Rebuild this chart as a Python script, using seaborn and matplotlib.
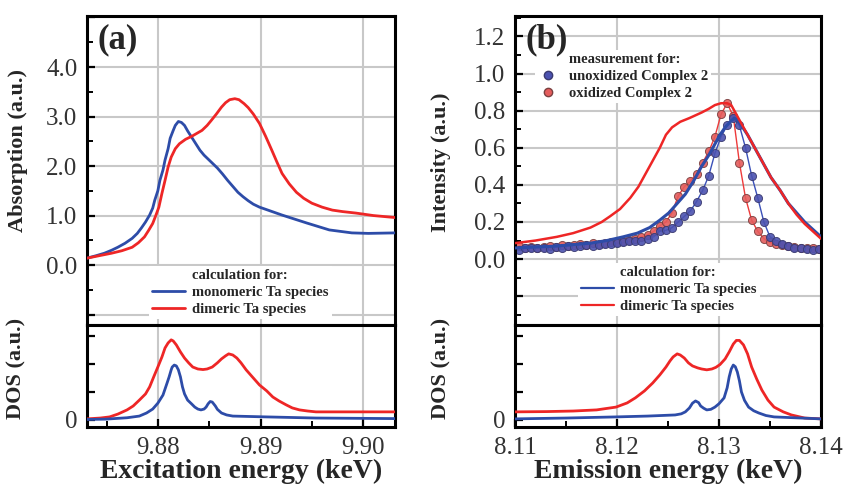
import numpy as np
import pandas as pd
import matplotlib
matplotlib.use("Agg")
import matplotlib.pyplot as plt
import seaborn as sns
from matplotlib.lines import Line2D
from matplotlib.ticker import MultipleLocator, FuncFormatter, NullLocator

# ---------------- data ----------------
# (a) absorption, calculation
abs_mono_x = [9.8731, 9.8740, 9.8748, 9.8755, 9.8761, 9.8768, 9.8775, 9.8780, 9.8784, 9.8788,
              9.8792, 9.8795, 9.8797, 9.8800, 9.8802, 9.8805, 9.8807, 9.8810, 9.8812, 9.8815,
              9.8817, 9.8820, 9.8823, 9.8826, 9.8829, 9.8833, 9.8837, 9.8841, 9.8845, 9.8850,
              9.8854, 9.8858, 9.8863, 9.8868, 9.8873, 9.8878, 9.8883, 9.8888, 9.8893, 9.8899,
              9.8910, 9.8921, 9.8933, 9.8945, 9.8956, 9.8967, 9.8978, 9.8989, 9.9005, 9.9031]
abs_mono_y = [0.14, 0.19, 0.24, 0.30, 0.36, 0.44, 0.54, 0.64, 0.75, 0.87,
              1.01, 1.15, 1.31, 1.50, 1.71, 1.92, 2.12, 2.35, 2.56, 2.72,
              2.82, 2.90, 2.88, 2.82, 2.71, 2.58, 2.45, 2.32, 2.22, 2.12,
              2.04, 1.96, 1.84, 1.71, 1.59, 1.47, 1.38, 1.30, 1.23, 1.17,
              1.09, 1.01, 0.93, 0.85, 0.78, 0.71, 0.68, 0.65, 0.64, 0.65]
abs_dim_x = [9.8731, 9.8743, 9.8755, 9.8765, 9.8775, 9.8781, 9.8787, 9.8791, 9.8795, 9.8798,
             9.8801, 9.8804, 9.8807, 9.8810, 9.8813, 9.8817, 9.8821, 9.8827, 9.8833, 9.8838,
             9.8843, 9.8848, 9.8852, 9.8857, 9.8862, 9.8866, 9.8870, 9.8875, 9.8879, 9.8884,
             9.8888, 9.8893, 9.8899, 9.8905, 9.8911, 9.8916, 9.8921, 9.8928, 9.8935, 9.8942,
             9.8950, 9.8960, 9.8970, 9.8980, 9.8993, 9.9010, 9.9031]
abs_dim_y = [0.14, 0.19, 0.24, 0.29, 0.36, 0.45, 0.57, 0.70, 0.84, 1.00,
             1.17, 1.45, 1.71, 1.98, 2.18, 2.35, 2.45, 2.54, 2.60, 2.66,
             2.72, 2.82, 2.92, 3.05, 3.19, 3.28, 3.34, 3.36, 3.34, 3.26,
             3.18, 3.05, 2.86, 2.60, 2.32, 2.08, 1.85, 1.64, 1.47, 1.35,
             1.25, 1.17, 1.11, 1.08, 1.05, 1.00, 0.96]

# (a) DOS
dosa_mono_x = [9.8731, 9.8749, 9.8770, 9.8782, 9.8789, 9.8795, 9.8800, 9.8805, 9.8809, 9.8811,
               9.8813, 9.8814, 9.8816, 9.8818, 9.8820, 9.8822, 9.8824, 9.8826, 9.8829, 9.8833,
               9.8836, 9.8839, 9.8842, 9.8845, 9.8847, 9.8849, 9.8851, 9.8853, 9.8856, 9.8858,
               9.8862, 9.8867, 9.8873, 9.8906, 9.8954, 9.9031]
dosa_mono_y = [0.02, 0.03, 0.08, 0.14, 0.25, 0.39, 0.60, 0.89, 1.32, 1.54,
               1.79, 1.89, 1.96, 1.93, 1.79, 1.54, 1.18, 0.93, 0.71, 0.57,
               0.46, 0.39, 0.36, 0.39, 0.46, 0.58, 0.66, 0.64, 0.50, 0.38,
               0.25, 0.18, 0.14, 0.11, 0.07, 0.05]
dosa_dim_x = [9.8731, 9.8744, 9.8753, 9.8761, 9.8770, 9.8776, 9.8782, 9.8788, 9.8792, 9.8796,
              9.8800, 9.8804, 9.8807, 9.8810, 9.8813, 9.8815, 9.8818, 9.8822, 9.8826, 9.8830,
              9.8834, 9.8839, 9.8844, 9.8848, 9.8853, 9.8858, 9.8862, 9.8866, 9.8869, 9.8873,
              9.8877, 9.8881, 9.8886, 9.8892, 9.8899, 9.8906, 9.8912, 9.8918, 9.8925, 9.8931,
              9.8938, 9.8946, 9.8954, 9.9031]
dosa_dim_y = [0.04, 0.07, 0.11, 0.21, 0.36, 0.50, 0.71, 0.93, 1.18, 1.54,
              1.89, 2.25, 2.57, 2.75, 2.86, 2.82, 2.68, 2.43, 2.21, 2.04,
              1.89, 1.82, 1.80, 1.82, 1.89, 2.04, 2.18, 2.29, 2.36, 2.32,
              2.21, 2.04, 1.79, 1.54, 1.25, 1.04, 0.82, 0.68, 0.54, 0.43,
              0.36, 0.32, 0.29, 0.29]

# (b) emission, calculation
em_mono_x = [8.1100, 8.1140, 8.1174, 8.1190, 8.1206, 8.1220, 8.1232, 8.1242, 8.1251, 8.1259,
             8.1267, 8.1275, 8.1283, 8.1290, 8.1296, 8.1301, 8.1306, 8.1311, 8.1315, 8.1318,
             8.1322, 8.1328, 8.1335, 8.1343, 8.1351, 8.1360, 8.1368, 8.1376, 8.1384, 8.1392,
             8.1400]
em_mono_y = [0.06, 0.07, 0.086, 0.10, 0.12, 0.14, 0.17, 0.21, 0.25, 0.30,
             0.35, 0.42, 0.50, 0.56, 0.62, 0.67, 0.71, 0.74, 0.76, 0.75,
             0.72, 0.67, 0.60, 0.52, 0.44, 0.37, 0.30, 0.25, 0.20, 0.16,
             0.12]
em_dim_x = [8.1100, 8.1120, 8.1141, 8.1157, 8.1174, 8.1185, 8.1193, 8.1203, 8.1213, 8.1221,
            8.1228, 8.1235, 8.1242, 8.1248, 8.1254, 8.1262, 8.1271, 8.1283, 8.1290, 8.1296,
            8.1302, 8.1308, 8.1312, 8.1315, 8.1318, 8.1322, 8.1328, 8.1335, 8.1343, 8.1351,
            8.1360, 8.1368, 8.1376, 8.1384, 8.1392, 8.1400]
em_dim_y = [0.086, 0.10, 0.12, 0.14, 0.17, 0.20, 0.23, 0.27, 0.33, 0.39,
            0.46, 0.53, 0.60, 0.67, 0.71, 0.74, 0.76, 0.79, 0.81, 0.83,
            0.84, 0.84, 0.83, 0.80, 0.77, 0.73, 0.67, 0.60, 0.52, 0.44,
            0.37, 0.30, 0.24, 0.19, 0.15, 0.11]

# (b) emission, measurement
meas_x = [8.1104, 8.1110, 8.1116, 8.1122, 8.1128, 8.1134, 8.1140, 8.1146, 8.1152, 8.1158,
          8.1164, 8.1170, 8.1176, 8.1182, 8.1188, 8.1194, 8.1200, 8.1206, 8.1212, 8.1218,
          8.1224, 8.1230, 8.1236, 8.1242, 8.1248, 8.1254, 8.1260, 8.1266, 8.1272, 8.1278,
          8.1284, 8.1290, 8.1296, 8.1302, 8.1308, 8.1314, 8.1320, 8.1326, 8.1332, 8.1338,
          8.1344, 8.1350, 8.1356, 8.1362, 8.1368, 8.1374, 8.1380, 8.1386, 8.1392, 8.1398]
meas_unox_y = [0.05, 0.06, 0.06, 0.06, 0.06, 0.055, 0.065, 0.06, 0.07, 0.065,
               0.07, 0.075, 0.07, 0.075, 0.08, 0.08, 0.085, 0.09, 0.095, 0.10,
               0.10, 0.11, 0.12, 0.15, 0.155, 0.17, 0.20, 0.23, 0.26, 0.31,
               0.37, 0.45, 0.57, 0.66, 0.72, 0.76, 0.72, 0.60, 0.45, 0.33,
               0.20, 0.12, 0.10, 0.08, 0.07, 0.06, 0.06, 0.055, 0.05, 0.055]
meas_ox_y = [0.07, 0.06, 0.065, 0.06, 0.065, 0.07, 0.065, 0.075, 0.07, 0.075,
             0.08, 0.075, 0.085, 0.08, 0.085, 0.09, 0.09, 0.10, 0.105, 0.11,
             0.12, 0.13, 0.15, 0.18, 0.20, 0.25, 0.34, 0.39, 0.42, 0.46,
             0.52, 0.58, 0.66, 0.78, 0.84, 0.77, 0.52, 0.33, 0.21, 0.15,
             0.11, 0.09, 0.08, 0.075, 0.07, 0.065, 0.06, 0.06, 0.06, 0.055]

# (b) DOS
dosb_mono_x = [8.1100, 8.1150, 8.1199, 8.1230, 8.1257, 8.1263, 8.1267, 8.1271, 8.1274, 8.1277,
               8.1280, 8.1282, 8.1285, 8.1288, 8.1292, 8.1296, 8.1300, 8.1305, 8.1308, 8.1310,
               8.1312, 8.1314, 8.1316, 8.1318, 8.1320, 8.1322, 8.1325, 8.1329, 8.1334, 8.1339,
               8.1346, 8.1354, 8.1400]
dosb_mono_y = [0.04, 0.07, 0.11, 0.14, 0.18, 0.22, 0.29, 0.43, 0.60, 0.68,
               0.62, 0.50, 0.42, 0.36, 0.38, 0.46, 0.58, 0.79, 1.15, 1.54,
               1.82, 1.96, 1.90, 1.71, 1.40, 1.00, 0.70, 0.46, 0.33, 0.25,
               0.16, 0.11, 0.04]
dosb_dim_x = [8.1100, 8.1131, 8.1157, 8.1180, 8.1199, 8.1210, 8.1218, 8.1227, 8.1235, 8.1242,
              8.1248, 8.1252, 8.1255, 8.1259, 8.1262, 8.1266, 8.1270, 8.1274, 8.1279, 8.1283,
              8.1288, 8.1293, 8.1297, 8.1301, 8.1306, 8.1310, 8.1314, 8.1317, 8.1320, 8.1324,
              8.1328, 8.1332, 8.1337, 8.1342, 8.1348, 8.1354, 8.1363, 8.1371, 8.1384, 8.1400]
dosb_dim_y = [0.29, 0.30, 0.32, 0.36, 0.46, 0.61, 0.79, 1.04, 1.32, 1.61,
              1.89, 2.11, 2.25, 2.36, 2.32, 2.21, 2.04, 1.93, 1.86, 1.82,
              1.79, 1.82, 1.88, 1.98, 2.18, 2.43, 2.71, 2.84, 2.84, 2.68,
              2.36, 1.89, 1.46, 1.07, 0.71, 0.46, 0.29, 0.18, 0.07, 0.04]

series_labels = ["monomeric Ta species", "dimeric Ta species"]
meas_labels = ["unoxidized Complex 2", "oxidized Complex 2"]

# ---------------- style ----------------
sns.set_theme(style="white")
plt.rcParams['font.family'] = ['Liberation Serif', 'DejaVu Serif']
plt.rcParams['axes.linewidth'] = 2.2
plt.rcParams['axes.edgecolor'] = 'black'
plt.rcParams['lines.solid_joinstyle'] = 'round'
plt.rcParams['lines.solid_capstyle'] = 'round'

BLUE = "#2d4ca8"
RED = "#ee2626"
GRID = "#c8c8c8"
TICKFS = 18

fig = plt.figure(figsize=(8.48, 4.84), dpi=100)
W, H = 848.0, 484.0


def axes_at(x0, y0, x1, y1):
    return fig.add_axes([x0 / W, 1 - y1 / H, (x1 - x0) / W, (y1 - y0) / H])


axA = axes_at(87, 16, 395, 325)
axA2 = axes_at(87, 325, 395, 427)
axB = axes_at(515, 16, 821, 325)
axB2 = axes_at(515, 325, 821, 427)


def line(ax, x, y, color, lw=2.0, z=3):
    sns.lineplot(data=pd.DataFrame({"x": x, "y": y}), x="x", y="y", ax=ax,
                 color=color, lw=lw, sort=False, estimator=None, zorder=z)


# (a) top
line(axA, abs_mono_x, abs_mono_y, BLUE)
line(axA, abs_dim_x, abs_dim_y, RED)
# (a) bottom
line(axA2, dosa_dim_x, dosa_dim_y, RED)
line(axA2, dosa_mono_x, dosa_mono_y, BLUE)
# (b) top: measurements
meas_df = pd.DataFrame({"x": meas_x, "unox": meas_unox_y, "ox": meas_ox_y})
line(axB, meas_x, meas_unox_y, "#3a50b8", lw=1.0, z=2)
line(axB, meas_x, meas_ox_y, "#ee3a3a", lw=1.0, z=2)
sns.scatterplot(data=meas_df, x="x", y="unox", ax=axB, color="#4b52b0",
                edgecolor="#3a3a70", linewidth=0.7, s=34, alpha=0.9, zorder=2.5)
sns.scatterplot(data=meas_df, x="x", y="ox", ax=axB, color="#e45c5c",
                edgecolor="#7a4040", linewidth=0.7, s=34, alpha=0.9, zorder=2.4)
line(axB, em_mono_x, em_mono_y, BLUE, lw=2.2, z=3)
line(axB, em_dim_x, em_dim_y, RED, lw=1.8, z=3)
# (b) bottom
line(axB2, dosb_dim_x, dosb_dim_y, RED)
line(axB2, dosb_mono_x, dosb_mono_y, BLUE)

# ---------------- axes formatting ----------------
for ax in (axA, axA2):
    ax.set_xlim(9.8731, 9.9031)
for ax in (axB, axB2):
    ax.set_xlim(8.11, 8.14)

axA.set_ylim(-1.21, 5.03)
axB.set_ylim(-0.355, 1.31)
for ax in (axA2, axB2):
    ax.set_ylim(-0.25, 3.39)

for ax in (axA, axA2, axB, axB2):
    ax.xaxis.set_major_locator(MultipleLocator(0.01))
    ax.xaxis.set_minor_locator(MultipleLocator(0.005))
    ax.set_xlabel("")
    ax.set_ylabel("")
    for s in ax.spines.values():
        s.set_linewidth(2.2)
        s.set_color("black")
    ax.tick_params(which='both', direction='in', left=True, bottom=True,
                   right=False, top=False, colors='black', labelsize=TICKFS,
                   labelcolor='#333333')
    ax.tick_params(which='major', length=6, width=1.6, pad=7)
    ax.tick_params(which='minor', length=4, width=1.4)
    ax.grid(True, which='major', axis='x', color=GRID, lw=1.5, zorder=0)

for ax in (axA, axB):
    ax.grid(True, which='major', axis='y', color=GRID, lw=1.5, zorder=0)
    ax.tick_params(axis='x', which='both', length=0, labelbottom=False)

axA.yaxis.set_major_locator(MultipleLocator(1.0))
axA.yaxis.set_minor_locator(MultipleLocator(0.5))
axA.yaxis.set_major_formatter(FuncFormatter(
    lambda v, p: f"{abs(v):.1f}" if -0.01 <= v <= 4.01 else ""))
axB.yaxis.set_major_locator(MultipleLocator(0.2))
axB.yaxis.set_minor_locator(MultipleLocator(0.1))
axB.yaxis.set_major_formatter(FuncFormatter(
    lambda v, p: f"{abs(v):.1f}" if -0.01 <= v <= 1.21 else ""))

for ax in (axA2, axB2):
    ax.yaxis.set_major_locator(MultipleLocator(1.0))
    ax.yaxis.set_minor_locator(NullLocator())
    ax.yaxis.set_major_formatter(FuncFormatter(
        lambda v, p: "0" if abs(v) < 0.01 else ""))
    ax.xaxis.set_major_formatter(FuncFormatter(lambda v, p: f"{v:.2f}"))

# axis labels
axA.set_ylabel("Absorption (a.u.)", fontsize=16, fontweight='bold')
axA.yaxis.set_label_coords(-0.19, 0.566)
axB.set_ylabel("Intensity (a.u.)", fontsize=16, fontweight='bold')
axB.yaxis.set_label_coords(-0.209, 0.527)
axA2.set_ylabel("DOS (a.u.)", fontsize=16, fontweight='bold')
axA2.yaxis.set_label_coords(-0.195, 0.57)
axB2.set_ylabel("DOS (a.u.)", fontsize=16, fontweight='bold')
axB2.yaxis.set_label_coords(-0.206, 0.57)
axA2.set_xlabel("Excitation energy (keV)", fontsize=20, fontweight='bold', labelpad=0)
axB2.set_xlabel("Emission energy (keV)", fontsize=20, fontweight='bold', labelpad=0)

# panel letters
axA.text(0.034, 0.975, "(a)", transform=axA.transAxes, fontsize=25,
         fontweight='bold', va='top', ha='left', zorder=10)
axB.text(0.034, 0.975, "(b)", transform=axB.transAxes, fontsize=25,
         fontweight='bold', va='top', ha='left', zorder=10)

# legends
leg_prop = {'weight': 'bold', 'size': 10.5}
calc_handles = [Line2D([], [], color='none', label='calculation for:'),
                Line2D([], [], color=BLUE, lw=2, label=series_labels[0]),
                Line2D([], [], color=RED, lw=2, label=series_labels[1])]
legA = axA.legend(handles=calc_handles, loc='upper left', bbox_to_anchor=(0.200, 0.190),
                  frameon=True, facecolor='white', edgecolor='none', framealpha=1,
                  fancybox=False, prop=leg_prop, handlelength=2.3, handletextpad=0.5,
                  labelspacing=0.25, borderpad=0.2, borderaxespad=0)
legA.set_zorder(6)

calc_handles_b = [Line2D([], [], color='none', label='calculation for:'),
                  Line2D([], [], color=BLUE, lw=1.6, label=series_labels[0]),
                  Line2D([], [], color=RED, lw=1.6, label=series_labels[1])]
legB = axB.legend(handles=calc_handles_b, loc='upper left', bbox_to_anchor=(0.206, 0.200),
                  frameon=True, facecolor='white', edgecolor='none', framealpha=1,
                  fancybox=False, prop=leg_prop, handlelength=2.3, handletextpad=0.4,
                  labelspacing=0.25, borderpad=0.2, borderaxespad=0)
legB.set_zorder(6)
axB.add_artist(legB)

meas_handles = [Line2D([], [], color='none', label='measurement for:'),
                Line2D([], [], ls='none', marker='o', mfc="#4b52b0", mec="#3a3a70",
                       ms=6, label=meas_labels[0]),
                Line2D([], [], ls='none', marker='o', mfc="#e45c5c", mec="#7a4040",
                       ms=6, label=meas_labels[1])]
legM = axB.legend(handles=meas_handles, loc='upper left', bbox_to_anchor=(0.065, 0.890),
                  frameon=True, facecolor='white', edgecolor='none', framealpha=1,
                  fancybox=False, prop=leg_prop, handlelength=1.4, handletextpad=0.75,
                  labelspacing=0.25, borderpad=0.2, borderaxespad=0)
legM.set_zorder(5)

fig.savefig("out.png", dpi=100)
